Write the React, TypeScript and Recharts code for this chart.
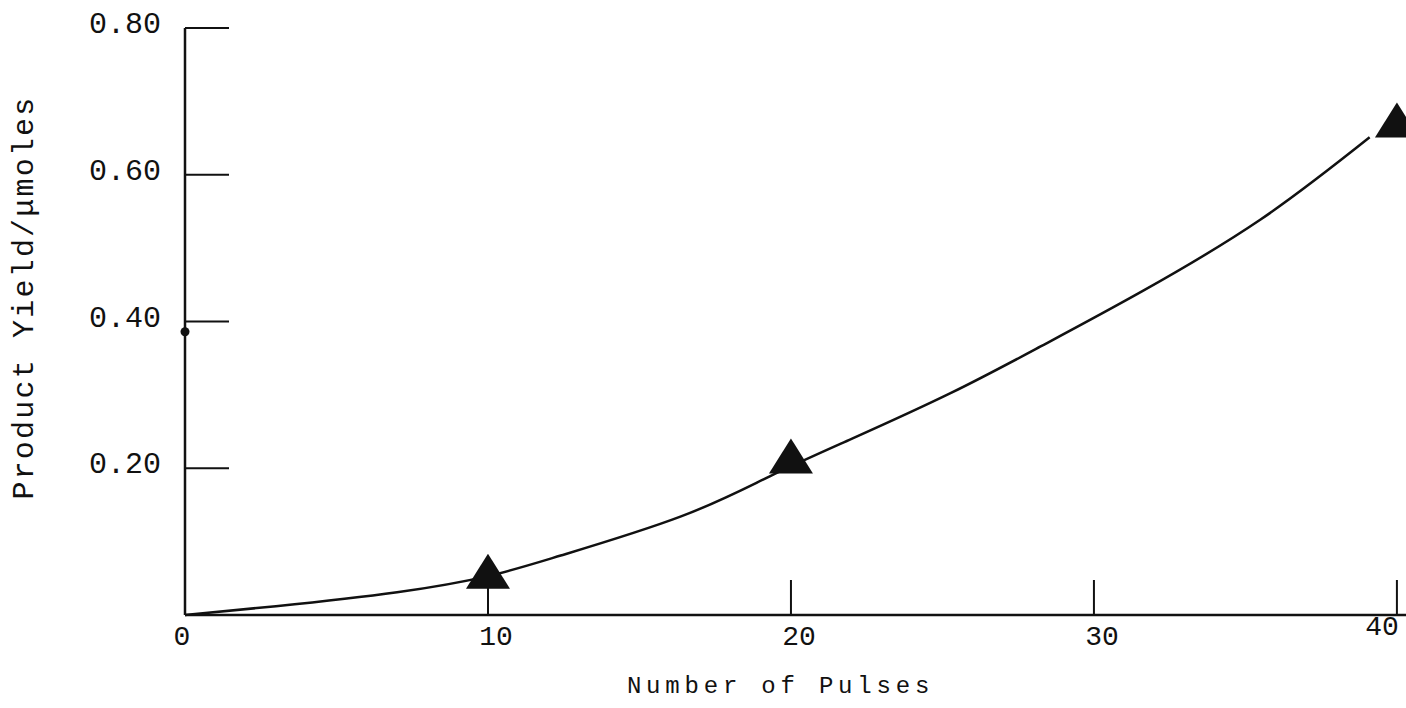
import { ComposedChart, Line, Scatter, XAxis, YAxis, Label } from "recharts";

// smooth curve drawn through the data
const curveX = [0, 3, 7, 10, 12.4, 16.35, 19.3, 22, 25.3, 28.24, 31.54, 35.5, 39.1];
const curveY = [0, 0.012, 0.031, 0.053, 0.081, 0.134, 0.189, 0.24, 0.303, 0.366, 0.44, 0.539, 0.651];

// triangle markers
const pulses = [10, 20, 40];
const yields = [0.059, 0.216, 0.674];

// lone dot on the y axis
const dotX = [0];
const dotY = [0.386];

const xTicks = [0, 10, 20, 30, 40];
const yTicks = [0.2, 0.4, 0.6, 0.8];

const curve = curveX.map((x, i) => ({ x, y: curveY[i] }));
const triangles = pulses.map((x, i) => ({ x, y: yields[i] }));
const dots = dotX.map((x, i) => ({ x, y: dotY[i] }));

const FONT = "Liberation Mono, DejaVu Sans Mono, monospace";
const INK = "#111";

const XTick = ({ x, y, payload }: any) => {
  const last = payload.value === 40;
  return (
    <g>
      {payload.value !== 0 && (
        <line x1={x} x2={x} y1={y} y2={y - 35} stroke={INK} strokeWidth={2} />
      )}
      <text
        x={last ? x + 2 : payload.value === 0 ? x - 3 : x + 8}
        y={last ? y + 20 : y + 30}
        textAnchor={last ? "end" : "middle"}
        fontFamily={FONT}
        fontSize={28}
        fill={INK}
      >
        {payload.value}
      </text>
    </g>
  );
};

const YTick = ({ x, y, payload }: any) => (
  <g>
    <line x1={x} x2={x + 44} y1={y} y2={y} stroke={INK} strokeWidth={2} />
    <text x={x - 24} y={y + 5} textAnchor="end" fontFamily={FONT} fontSize={30} fill={INK}>
      {payload.value.toFixed(2)}
    </text>
  </g>
);

const Triangle = ({ cx, cy }: any) => (
  <polygon
    points={`${cx},${cy - 18} ${cx - 22},${cy + 17} ${cx + 22},${cy + 17}`}
    fill={INK}
  />
);

const Dot = ({ cx, cy }: any) => <circle cx={cx} cy={cy} r={4.5} fill={INK} />;

export default function App() {
  return (
    <div style={{ position: "absolute", left: 0, top: 0, background: "#fff" }}>
      <ComposedChart width={1406} height={708} margin={{ top: 28, right: 0, left: 125, bottom: 63 }}>
        <XAxis
          dataKey="x"
          type="number"
          domain={[0, 40.3]}
          ticks={xTicks}
          tick={<XTick />}
          tickLine={false}
          tickSize={0}
          tickMargin={0}
          axisLine={{ stroke: INK, strokeWidth: 2.5 }}
          height={30}
        >
          <Label
            content={({ viewBox }: any) => (
              <text
                x={viewBox.x + viewBox.width / 2 - 15}
                y={viewBox.y + 78}
                textAnchor="middle"
                fontFamily={FONT}
                fontSize={24}
                letterSpacing={4.8}
                fill={INK}
              >
                Number of Pulses
              </text>
            )}
          />
        </XAxis>
        <YAxis
          type="number"
          domain={[0, 0.8]}
          ticks={yTicks}
          tick={<YTick />}
          tickLine={false}
          tickSize={0}
          tickMargin={0}
          axisLine={{ stroke: INK, strokeWidth: 2.5 }}
          width={60}
        >
          <Label
            content={({ viewBox }: any) => {
              const cy = viewBox.y + viewBox.height / 2 - 24;
              return (
                <text
                  x={33}
                  y={cy}
                  transform={`rotate(-90, 33, ${cy})`}
                  textAnchor="middle"
                  fontFamily={FONT}
                  fontSize={30}
                  letterSpacing={2.2}
                  fill={INK}
                >
                  Product Yield/μmoles
                </text>
              );
            }}
          />
        </YAxis>
        <Line
          data={curve}
          dataKey="y"
          type="natural"
          stroke={INK}
          strokeWidth={2.5}
          dot={false}
          activeDot={false}
          isAnimationActive={false}
        />
        <Scatter data={triangles} dataKey="y" shape={<Triangle />} isAnimationActive={false} />
        <Scatter data={dots} dataKey="y" shape={<Dot />} isAnimationActive={false} />
      </ComposedChart>
    </div>
  );
}
